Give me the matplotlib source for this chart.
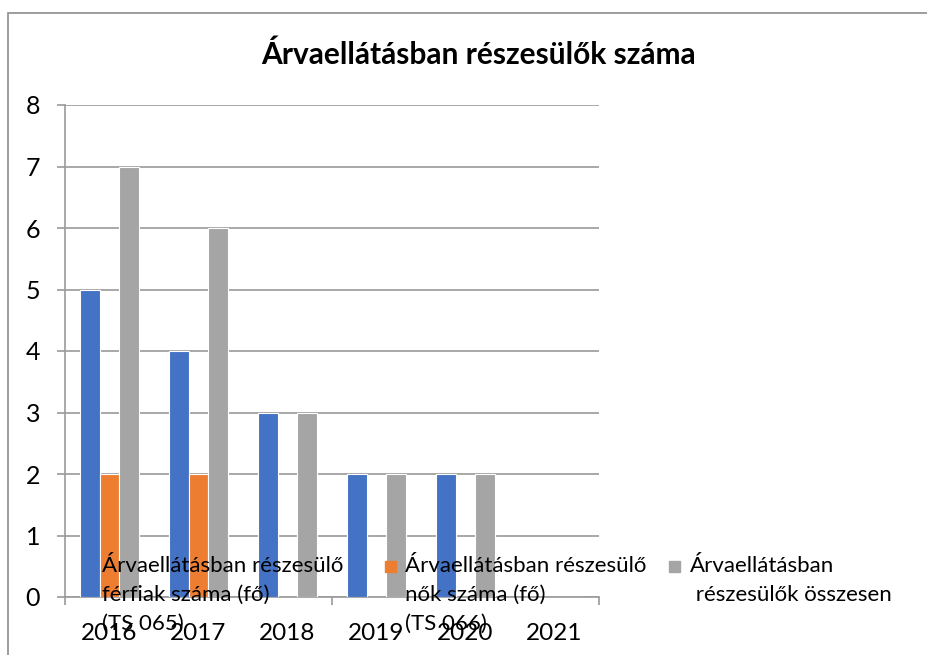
import numpy as np
import matplotlib
matplotlib.use("Agg")
import matplotlib.pyplot as plt
from matplotlib.patches import Rectangle

years = ["2016", "2017", "2018", "2019", "2020", "2021"]
men = [5, 4, 3, 2, 2, 0]
women = [2, 2, 0, 0, 0, 0]
total = [7, 6, 3, 2, 2, 0]

labels = [
    "Árvaellátásban részesülő\nférfiak száma (fő)\n(TS 065)",
    "Árvaellátásban részesülő\nnők száma (fő)\n(TS 066)",
    "Árvaellátásban\n részesülők összesen",
]
colors = ["#4472C4", "#ED7D31", "#A5A5A5"]

plt.rcParams["font.family"] = ["Lato", "DejaVu Sans"]

W, H = 927, 655
fig = plt.figure(figsize=(W / 100, H / 100), dpi=100)
ax = fig.add_axes([65 / W, 1 - 597 / H, (599 - 65) / W, (597 - 105) / H])

# chart area border (cropped on the right and bottom)
fig.patches.append(Rectangle((8 / W, -0.1), 1.2, 1.1 - 13 / H, transform=fig.transFigure,
                             fill=False, edgecolor="#8C8C8C", lw=1.2, clip_on=False))

x = np.arange(len(years))
w = 1 / 4.5
for i, (vals, c) in enumerate(zip([men, women, total], colors)):
    ax.bar(x + (i - 1) * w, vals, w, color=c, edgecolor="white", lw=0.8, zorder=3)

ax.set_xlim(-0.5, len(years) - 0.5)
ax.set_ylim(0, 8)
ax.set_yticks(range(9))
ax.grid(axis="y", color="#9A9A9A", lw=1.2, zorder=0)
for s in ["top", "right"]:
    ax.spines[s].set_visible(False)
for s in ["left", "bottom"]:
    ax.spines[s].set_color("#9A9A9A")
    ax.spines[s].set_linewidth(1.2)

ax.tick_params(axis="y", length=6, width=1.2, color="#9A9A9A", labelsize=18, pad=12)
ax.set_xticks(x)
ax.set_xticklabels(years)
ax.tick_params(axis="x", length=0, labelsize=17.5, pad=19)
ax.set_xticks([-0.5, 2.5, 5.5], minor=True)
ax.tick_params(axis="x", which="minor", length=6, width=1.2, color="#9A9A9A")

fig.text(478 / W, 1 - 55 / H, "Árvaellátásban részesülők száma", ha="center", va="center",
         fontsize=21.5, fontweight="bold")

# legend, laid over the bottom of the plot area
leg_marker_x = [82, 385, 669]
leg_text_x = [102, 405, 690]
for mx, tx, lab, c in zip(leg_marker_x, leg_text_x, labels, colors):
    fig.patches.append(Rectangle((mx / W, 1 - 572 / H), 11 / W, 11 / H, transform=fig.transFigure,
                                 color=c, zorder=5))
    fig.text(tx / W, 1 - 556 / H, lab, ha="left", va="top", fontsize=16,
             linespacing=1.56, zorder=6)

fig.savefig("out.png", dpi=100)
